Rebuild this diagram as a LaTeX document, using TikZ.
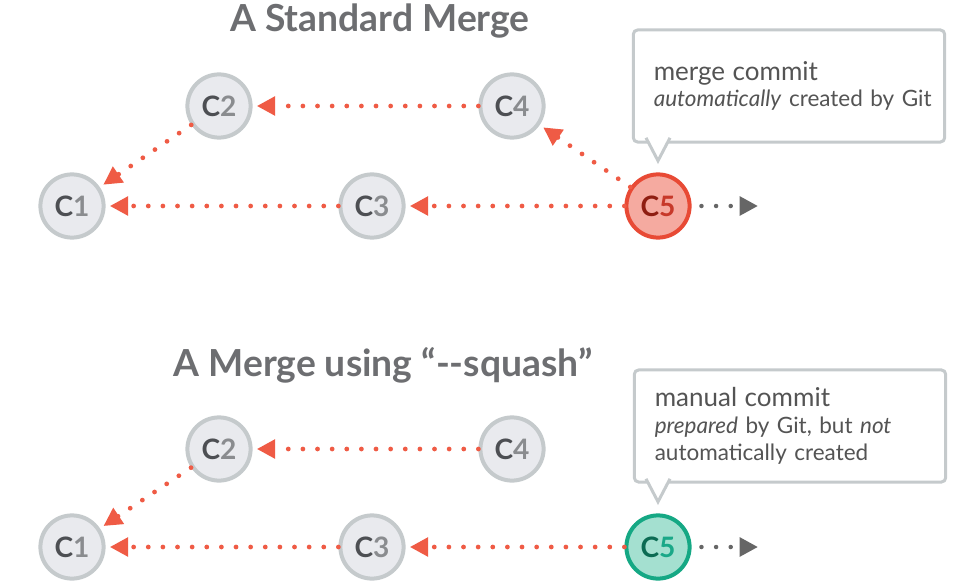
\documentclass[tikz,border=0pt]{standalone}
\usepackage{fontspec}
\setmainfont{Lato}
\usepackage{xcolor}
\usetikzlibrary{arrows.meta,positioning}

\definecolor{titlegray}{HTML}{6D6E71}
\definecolor{ringgray}{HTML}{C5CACC}
\definecolor{commitfill}{HTML}{E9EAEE}
\definecolor{cdark}{HTML}{4D4F53}
\definecolor{clight}{HTML}{8A8C8F}
\definecolor{dotred}{HTML}{EF5B45}
\definecolor{mergefill}{HTML}{F5AAA0}
\definecolor{mergering}{HTML}{E84A35}
\definecolor{mergedark}{HTML}{8F1E12}
\definecolor{mergelight}{HTML}{C7392A}
\definecolor{squashfill}{HTML}{A4E0D0}
\definecolor{squashring}{HTML}{15A884}
\definecolor{squashdark}{HTML}{0C6B53}
\definecolor{squashlight}{HTML}{1AA888}
\definecolor{nextgray}{HTML}{666666}
\definecolor{notegray}{HTML}{545454}

% two-tone commit label
\newcommand{\clab}[3]{{\color{#1}C}{\color{#2}#3}}
% first line of a note
\newcommand{\notehead}[1]{{\fontsize{18.5}{19}\selectfont #1}}

\begin{document}
\begin{tikzpicture}[
  x=0.025cm, y=-0.025cm,
  commit/.style={circle, draw=ringgray, fill=commitfill, line width=0.1cm,
    minimum size=1.58cm, inner sep=0pt, font=\bfseries\fontsize{20}{20}\selectfont},
  merged/.style={commit, draw=mergering, fill=mergefill},
  squashed/.style={commit, draw=squashring, fill=squashfill},
  edge/.style={draw=dotred, line width=3.4pt, line cap=round,
    dash pattern=on 0pt off 10.4pt, shorten >=3pt,
    -{Triangle[length=13pt, width=13pt, fill=dotred]}},
  next/.style={draw=nextgray, line width=3.2pt, line cap=round,
    dash pattern=on 0pt off 10.4pt, shorten <=7pt,
    -{Triangle[length=13pt, width=13pt, fill=nextgray]}},
  note/.style={rectangle, draw=ringgray, fill=white, line width=0.075cm,
    rounded corners=3pt, align=left, text width=6.76cm, inner xsep=0.51cm,
    minimum height=2.8cm, text=notegray, font=\fontsize{16}{19}\selectfont},
  pointer/.style={draw=ringgray, fill=white, line width=0.075cm, line join=miter},
  heading/.style={text=titlegray, font=\bfseries\fontsize{26.5}{26.5}\selectfont}
]

\useasboundingbox (0,0) rectangle (958,584);

% --- A Standard Merge ---
\node[heading] (title1) at (380,21) {A Standard Merge};

\node[commit] (c1t) at (72,206) {\clab{cdark}{clight}{1}};
\node[commit] (c2t) at (219,106) {\clab{cdark}{clight}{2}};
\node[commit] (c3t) at (372,206) {\clab{cdark}{clight}{3}};
\node[commit] (c4t) at (512,106) {\clab{cdark}{clight}{4}};
\node[merged] (c5t) at (658,206) {\clab{mergedark}{mergelight}{5}};
\coordinate (endt) at (758,206);

\draw[edge] (c2t) -- (c1t);
\draw[edge] (c4t) -- (c2t);
\draw[edge] (c3t) -- (c1t);
\draw[edge] (c5t) -- (c3t);
\draw[edge] (c5t) -- (c4t);
\draw[next] (c5t) -- (endt);

\node[note] (notet) at (789,86)
  {\notehead{merge commit}\\\mbox{\textit{automatically} created by Git}};
\coordinate (tipt) at ([yshift=0.29cm]c5t.north);
\path[pointer] (tipt) ++(-12,-23) -- (tipt) -- ++(12,-23);

% --- A Merge using --squash ---
\node[heading] (title2) at (383,365) {A Merge using “-{}-squash”};

\node[commit] (c1b) at (72,547) {\clab{cdark}{clight}{1}};
\node[commit] (c2b) at (219,449) {\clab{cdark}{clight}{2}};
\node[commit] (c3b) at (372,547) {\clab{cdark}{clight}{3}};
\node[commit] (c4b) at (512,449) {\clab{cdark}{clight}{4}};
\node[squashed] (c5b) at (658,547) {\clab{squashdark}{squashlight}{5}};
\coordinate (endb) at (758,547);

\draw[edge] (c2b) -- (c1b);
\draw[edge] (c4b) -- (c2b);
\draw[edge] (c3b) -- (c1b);
\draw[edge] (c5b) -- (c3b);
\draw[next] (c5b) -- (endb);

\node[note] (noteb) at (790,426)
  {\notehead{manual commit}\\\textit{prepared} by Git, but \textit{not}\\automatically created};
\coordinate (tipb) at ([yshift=0.29cm]c5b.north);
\path[pointer] (tipb) ++(-12,-23) -- (tipb) -- ++(12,-23);
\end{tikzpicture}
\end{document}
